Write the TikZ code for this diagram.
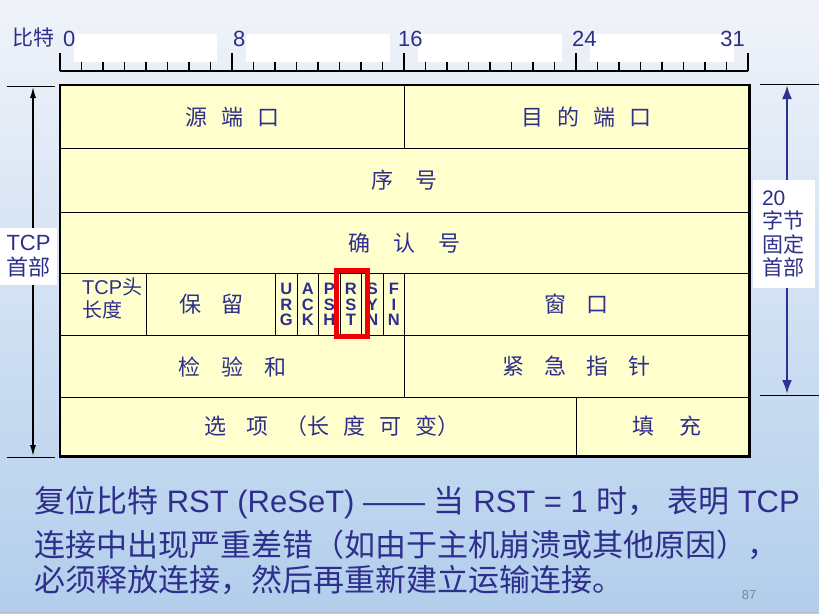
\documentclass[tikz,border=0pt]{standalone}
\usepackage{fontspec}
\setmainfont{Liberation Sans}
\newfontfamily\cjk{Noto Sans CJK SC}
\usetikzlibrary{arrows.meta}
\definecolor{txtblue}{RGB}{46,46,140}
\definecolor{cellfill}{RGB}{255,255,206}
\definecolor{arrowblue}{RGB}{46,49,146}
\definecolor{bgtop}{RGB}{240,243,249}
\definecolor{bgbot}{RGB}{178,206,236}
\definecolor{pagegrey}{RGB}{120,135,150}
\definecolor{rstred}{RGB}{240,0,0}
\newcommand\cg[1]{\hspace*{#1pt}}
\newcommand\mkcell[7][cell]{\node[#1, minimum width={#5-#3}, minimum height={#6-#4}] (#2) at (#3,#4) {#7};}
\begin{document}
\begin{tikzpicture}[x=1pt,y=-1pt,
  every node/.style={text=txtblue},
  cell/.style={draw=black, line width=1.2pt, fill=cellfill, inner sep=0pt, anchor=north west, font=\cjk\fontsize{22}{26}\selectfont},
  flag/.style={cell, font=\bfseries\fontsize{16.5}{15.5}\selectfont, align=center},
  tickline/.style={line width=1.2pt, black},
  plain/.style={inner sep=0pt},
  labelbox/.style={fill=white, inner sep=0pt},
  bottomtext/.style={anchor=base west, inner sep=0pt, font=\fontsize{31}{31}\selectfont}
]
\useasboundingbox (0,0) rectangle (819,613);
\shade[top color=bgtop, bottom color=bgbot] (0,0) rectangle (819,613);
\draw[gray!50, line width=1pt] (0,612) -- (819,612);

% ruler
\fill[white] (74,34) rectangle (217,62);
\fill[white] (246,34) rectangle (390,62);
\fill[white] (418,34) rectangle (562,62);
\fill[white] (590,34) rectangle (734,62);
\draw[tickline] (60,71) -- (748,71);
\foreach \b in {1,...,31} \draw[tickline] ({60+21.5*\b},62) -- ({60+21.5*\b},71);
\foreach \b in {0,8,16,24,32} \draw[tickline] ({60+21.5*\b},53) -- ({60+21.5*\b},71);
\node[plain, anchor=base west, font=\cjk\fontsize{21}{21}\selectfont] (bitword) at (12,45) {比特};
\node[plain, anchor=base west, font=\fontsize{22}{22}\selectfont] (n0) at (63,46) {0};
\node[plain, anchor=base west, font=\fontsize{22}{22}\selectfont] (n8) at (233,46) {8};
\node[plain, anchor=base west, font=\fontsize{22}{22}\selectfont] (n16) at (398,46) {16};
\node[plain, anchor=base west, font=\fontsize{22}{22}\selectfont] (n24) at (572,46) {24};
\node[plain, anchor=base east, font=\fontsize{22}{22}\selectfont] (n31) at (745,46) {31};

% table cells
\mkcell{src}{60}{85}{404}{148}{源\cg{14}端\cg{14}口}
\mkcell{dst}{404}{85}{748}{148}{\cg{20}目\cg{14}的\cg{14}端\cg{14}口}
\mkcell{seq}{60}{148}{748}{212}{序\cg{22}号}
\mkcell{ackn}{60}{212}{748}{273}{确\cg{23}认\cg{23}号}
\mkcell{hlen}{60}{273}{146}{335}{}
\mkcell{rsv}{146}{273}{275}{335}{保\cg{20}留}
\mkcell[flag]{furg}{275}{273}{296.5}{335}{U\\R\\G}
\mkcell[flag]{fack}{296.5}{273}{318}{335}{A\\C\\K}
\mkcell[flag]{fpsh}{318}{273}{339.5}{335}{P\\S\\H}
\mkcell[flag]{frst}{339.5}{273}{361}{335}{R\\S\\T}
\mkcell[flag]{fsyn}{361}{273}{382.5}{335}{S\\Y\\N}
\mkcell[flag]{ffin}{382.5}{273}{404}{335}{F\\I\\N}
\mkcell{win}{404}{273}{748}{335}{窗\cg{20}口}
\mkcell{chk}{60}{335}{404}{397}{检\cg{21}验\cg{21}和}
\mkcell{urgp}{404}{335}{748}{397}{紧\cg{20}急\cg{20}指\cg{20}针}
\mkcell{opt}{60}{397}{576}{455}{\cg{26}选\cg{20}项\cg{17}（长\cg{14}度\cg{14}可\cg{14}变）}
\mkcell{pad}{576}{397}{748}{455}{\cg{8}填\cg{25}充}
\draw[line width=2.6pt] (src.north west) rectangle (pad.south east);
\node[plain, anchor=west, align=left, font=\fontsize{20}{23}\selectfont] (hlenlabel) at (82,298) {TCP{\cjk 头}\\{\cjk 长度}};
\node[draw=rstred, line width=5pt, minimum width=31pt, minimum height=66pt, inner sep=0pt] (rstmark) at (352,303.5) {};

% left dimension
\coordinate (lta) at (7,86); \coordinate (ltb) at (55,86);
\coordinate (lba) at (7,457); \coordinate (lbb) at (55,457);
\coordinate (lt) at (33,87); \coordinate (lb) at (33,456);
\draw[line width=1pt] (lta) -- (ltb);
\draw[line width=1pt] (lba) -- (lbb);
\draw[line width=1.3pt, {Latex[length=11pt,width=6pt]}-{Latex[length=11pt,width=6pt]}] (lt) -- (lb);
\node[labelbox, minimum width=57pt, minimum height=57pt, align=center, font=\fontsize{22}{25}\selectfont] (tcplabel) at (28.5,256.5) {TCP\\{\cjk 首部}};

% right dimension
\coordinate (rta) at (760,84); \coordinate (rtb) at (819,84);
\coordinate (rba) at (760,395); \coordinate (rbb) at (819,395);
\coordinate (rt) at (787,85); \coordinate (rb) at (787,394);
\draw[line width=1pt] (rta) -- (rtb);
\draw[line width=1pt] (rba) -- (rbb);
\draw[arrowblue, line width=2.5pt, {Latex[length=14pt,width=10pt]}-{Latex[length=14pt,width=10pt]}] (rt) -- (rb);
\node[labelbox, minimum width=62pt, minimum height=108pt, inner xsep=9pt, text width=44pt, align=left, font=\fontsize{21}{23.5}\selectfont] (fixlabel) at (784,234) {20\\{\cjk 字节}\\{\cjk 固定}\\{\cjk 首部}};

% bottom text
\node[bottomtext] (line1) at (34,512) {{\cjk 复位比特} RST (ReSeT) —— {\cjk 当} RST = 1 {\cjk 时，} {\cjk 表明} TCP};
\node[bottomtext] (line2) at (34,556) {\cjk 连接中出现严重差错（如由于主机崩溃或其他原因），};
\node[bottomtext] (line3) at (34,591) {\cjk 必须释放连接，然后再重新建立运输连接。};
\node[plain, anchor=base, text=pagegrey, font=\fontsize{13}{13}\selectfont] (pnum) at (749,599) {87};
\end{tikzpicture}
\end{document}
